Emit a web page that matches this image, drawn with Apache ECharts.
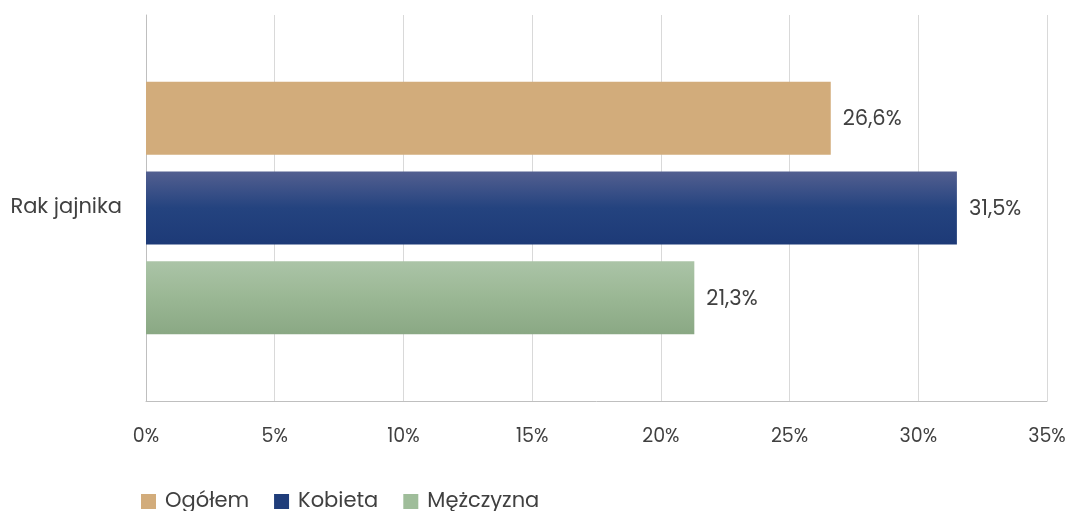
<!DOCTYPE html>
<html>
<head>
<meta charset="utf-8">
<script src="https://cdn.jsdelivr.net/npm/echarts@6/dist/echarts.min.js"></script>
<style>
  html, body { margin: 0; padding: 0; background: #fff; }
  #chart { width: 1070px; height: 511px; }
</style>
</head>
<body>
<div id="chart"></div>
<script>
var categories = ['Rak jajnika'];
var seriesNames = ['Ogółem', 'Kobieta', 'Mężczyzna'];
var ogolem = [26.6];
var kobieta = [31.5];
var mezczyzna = [21.3];
var xTicks = [0, 5, 10, 15, 20, 25, 30, 35];

var fontName = 'Poppins, Inter, "Noto Sans", sans-serif';
var textColor = '#404040';

function grad(top, mid, bottom) {
  return new echarts.graphic.LinearGradient(0, 0, 0, 1, [
    { offset: 0, color: top },
    { offset: 0.5, color: mid },
    { offset: 1, color: bottom }
  ]);
}

function fmt(v) {
  return v.toFixed(1).replace('.', ',') + '%';
}

var colors = [
  '#D2AC7B',
  grad('#535f90', '#24437f', '#1d3a77'),
  grad('#abc4a7', '#9ab794', '#8aa884')
];
var legendColors = ['#D2AC7B', '#1f3d7a', '#9fbd9a'];
var values = [ogolem, kobieta, mezczyzna];

var chart = echarts.init(document.getElementById('chart'));
chart.setOption({
  animation: false,
  textStyle: { fontFamily: fontName },
  grid: { left: 146, right: 23, top: 15, bottom: 110 },
  legend: {
    top: 486,
    left: 136,
    itemWidth: 15,
    itemHeight: 15,
    itemGap: 25,
    icon: 'rect',
    textStyle: { fontSize: 21, color: textColor, fontFamily: fontName, padding: [0, 0, 0, 4] },
    data: seriesNames.map(function (n, i) {
      return { name: n, itemStyle: { color: legendColors[i] } };
    })
  },
  xAxis: {
    type: 'value',
    min: xTicks[0],
    max: xTicks[xTicks.length - 1],
    interval: 5,
    axisLine: { show: true, lineStyle: { color: '#bfbfbf', width: 1 } },
    axisTick: { show: false },
    splitLine: { show: true, lineStyle: { color: '#d9d9d9', width: 1 } },
    axisLabel: {
      color: textColor,
      fontSize: 19,
      margin: 27,
      formatter: function (v) { return v + '%'; }
    }
  },
  yAxis: {
    type: 'category',
    data: categories,
    inverse: true,
    axisLine: { show: true, lineStyle: { color: '#bfbfbf', width: 1 } },
    axisTick: { show: false },
    axisLabel: { color: textColor, fontSize: 21, margin: 24 }
  },
  series: seriesNames.map(function (name, i) {
    return {
      name: name,
      type: 'bar',
      data: values[i],
      barWidth: 73,
      barGap: '23%',
      itemStyle: { color: colors[i] },
      label: {
        show: true,
        position: 'right',
        distance: 12,
        color: textColor,
        fontSize: 21,
        offset: [0, 2],
        formatter: function (p) { return fmt(p.value); }
      }
    };
  })
});
</script>
</body>
</html>
